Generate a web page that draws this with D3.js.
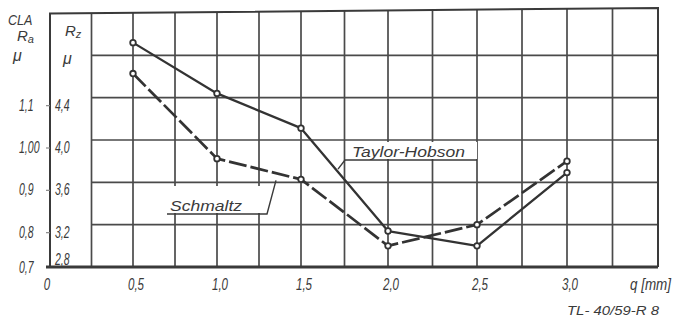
<!DOCTYPE html>
<html>
<head>
<meta charset="utf-8">
<script src="https://cdn.jsdelivr.net/npm/d3@7"></script>
<style>
  html, body { margin: 0; padding: 0; background: #fff; }
  svg { display: block; }
  text { font-family: "Liberation Sans", Arial, sans-serif; font-style: italic; fill: #3a3a3a; }
</style>
</head>
<body>
<script>
// Surface roughness against feed q (mm): Ra (CLA) on the outer scale, Rz on the inner one
const feedValues = [0.5, 1.0, 1.5, 2.0, 2.5, 3.0];
const taylorHobsonRa = [1.23, 1.11, 1.028, 0.785, 0.75, 0.923];
const schmaltzRa = [1.157, 0.956, 0.907, 0.75, 0.80, 0.95];

const feedTicks = [0, 0.5, 1.0, 1.5, 2.0, 2.5, 3.0];
const feedTickLabels = ["0", "0,5", "1,0", "1,5", "2,0", "2,5", "3,0"];
const raTicks = [0.7, 0.8, 0.9, 1.0, 1.1];
const raTickLabels = ["0,7", "0,8", "0,9", "1,00", "1,1"];
const rzTicks = [2.8, 3.2, 3.6, 4.0, 4.4];
const rzTickLabels = ["2,8", "3,2", "3,6", "4,0", "4,4"];
const gridFeed = d3.range(1, 14).map(i => i * 0.25);   // 0.25 … 3.25
const gridRa = [0.8, 0.9, 1.0, 1.1, 1.2];

const W = 679, H = 320;
const ink = "#3a3a3a";
const gridInk = "#4a4a4a";

const svg = d3.select("body").append("svg")
  .attr("width", W).attr("height", H)
  .attr("viewBox", `0 0 ${W} ${H}`);

svg.append("rect").attr("width", W).attr("height", H).attr("fill", "#fff");

// the ruled grid is hand-spaced, so the feed scale is piecewise
const x = d3.scaleLinear()
  .domain([0, 0.5, 1.0, 1.5, 2.0, 2.5, 3.0, 3.5])
  .range([50, 133, 217, 301, 388, 477, 567, 658]);
const y = d3.scaleLinear().domain([0.7, 1.3]).range([267, 13]);
const yRz = d3.scaleLinear().domain([2.8, 5.2]).range([267, 13]);

const x0 = x(0), x1 = x(3.5), yBase = y(0.7);
// the top rule rises slightly towards the right
const topAt = px => y(1.3) + 0.5 - (px - x0) / (x1 - x0) * 5.5;

const grid = svg.append("g")
  .attr("stroke", gridInk).attr("stroke-width", 1.7).attr("fill", "none");

grid.selectAll("line.v").data(gridFeed).join("line")
  .attr("class", "v")
  .attr("x1", d => x(d)).attr("x2", d => x(d))
  .attr("y1", d => topAt(x(d))).attr("y2", yBase);

grid.selectAll("line.h").data(gridRa).join("line")
  .attr("class", "h")
  .attr("x1", x(0.25)).attr("x2", x1)
  .attr("y1", d => y(d)).attr("y2", d => y(d));

// frame
svg.append("path")
  .attr("d", `M${x0},${yBase} L${x0},${topAt(x0)} L${x1},${topAt(x1)} L${x1},${yBase}`)
  .attr("fill", "none").attr("stroke", ink).attr("stroke-width", 2);
svg.append("line")
  .attr("x1", x0 - 4).attr("x2", x1).attr("y1", yBase).attr("y2", yBase)
  .attr("stroke", ink).attr("stroke-width", 3);

// small ticks on the left rule
svg.selectAll("line.tk").data(raTicks.slice(1)).join("line")
  .attr("class", "tk")
  .attr("x1", x0 - 4).attr("x2", x0)
  .attr("y1", d => y(d) + 8).attr("y2", d => y(d) + 8)
  .attr("stroke", "#888").attr("stroke-width", 1.2);

// white patches where the lettering interrupts the grid
svg.append("rect").attr("x", 166).attr("y", 186).attr("width", 101).attr("height", 27).attr("fill", "#fff");
svg.append("rect").attr("x", 346).attr("y", 142).attr("width", 131).attr("height", 17).attr("fill", "#fff");

// condensed hand lettering
function tickText(g, str, px, py, anchor, size, sx) {
  return g.append("text")
    .attr("transform", `translate(${px},${py}) scale(${sx},1)`)
    .attr("text-anchor", anchor)
    .attr("font-size", size)
    .text(str);
}

const labels = svg.append("g");

// feed axis
feedTicks.forEach((v, i) => {
  tickText(labels, feedTickLabels[i], x(v) + (v === 0 ? -3 : 3), 290, "middle", 17, 0.68);
});
labels.append("text").attr("x", 630).attr("y", 290).attr("font-size", 16)
  .attr("textLength", 41).attr("lengthAdjust", "spacingAndGlyphs").text("q [mm]");
labels.append("text").attr("x", 567).attr("y", 315).attr("font-size", 13).attr("font-style", "normal")
  .attr("textLength", 92).attr("lengthAdjust", "spacingAndGlyphs").text("TL- 40/59-R 8");

// Ra scale (outer) and Rz scale (inner)
raTicks.forEach((v, i) => {
  const dy = v === 0.7 ? 6 : 13;
  tickText(labels, raTickLabels[i], 19, y(v) + dy, "start", 17, 0.62);
});
rzTicks.forEach((v, i) => {
  const dy = v === 2.8 ? -2 : 13;
  tickText(labels, rzTickLabels[i], 55, yRz(v) + dy, "start", 17, 0.62);
});

// scale headings
tickText(labels, "CLA", 8, 25, "start", 14, 0.9);
const ra = labels.append("text").attr("x", 17).attr("y", 41).attr("font-size", 15);
ra.append("tspan").text("R");
ra.append("tspan").attr("font-size", 11).attr("dy", 2).text("a");
labels.append("text").attr("x", 13).attr("y", 61).attr("font-size", 16).text("μ");
const rz = labels.append("text").attr("x", 65).attr("y", 36).attr("font-size", 15);
rz.append("tspan").text("R");
rz.append("tspan").attr("font-size", 11).attr("dy", 2).text("z");
labels.append("text").attr("x", 63).attr("y", 64).attr("font-size", 16).text("μ");

// series
const line = d3.line().x(d => x(d[0])).y(d => y(d[1]));
const thPts = feedValues.map((q, i) => [q, taylorHobsonRa[i]]);
const scPts = feedValues.map((q, i) => [q, schmaltzRa[i]]);

svg.append("path").datum(thPts).attr("d", line)
  .attr("fill", "none").attr("stroke", "#333").attr("stroke-width", 2.3)
  .attr("stroke-linejoin", "round");
svg.append("path").datum(scPts).attr("d", line)
  .attr("fill", "none").attr("stroke", "#333").attr("stroke-width", 2.7)
  .attr("stroke-dasharray", "18 4").attr("stroke-linejoin", "round");

[thPts, scPts].forEach(pts => {
  svg.append("g").selectAll("circle").data(pts).join("circle")
    .attr("cx", d => x(d[0])).attr("cy", d => y(d[1])).attr("r", 2.8)
    .attr("fill", "#fff").attr("stroke", "#333").attr("stroke-width", 1.8);
});

// series names with leaders
const ann = svg.append("g").attr("stroke", ink).attr("stroke-width", 1.4).attr("fill", "none");
labels.append("text").attr("x", 352).attr("y", 157).attr("font-size", 15)
  .attr("textLength", 113).attr("lengthAdjust", "spacingAndGlyphs").text("Taylor-Hobson");
ann.append("path").attr("d", `M${x(2.5)},160 L345,160 L${x(1.5) + 37},${y(taylorHobsonRa[2]) + 41}`);

labels.append("text").attr("x", 170).attr("y", 211).attr("font-size", 15)
  .attr("textLength", 72).attr("lengthAdjust", "spacingAndGlyphs").text("Schmaltz");
ann.append("path").attr("d", `M167,214 L267,214 L276,${y(0.9) - 2}`);
</script>
</body>
</html>
